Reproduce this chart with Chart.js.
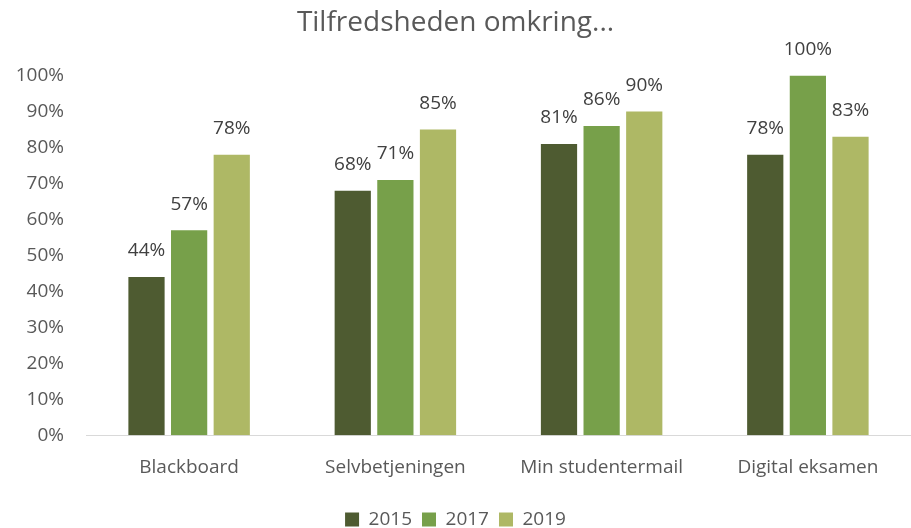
<!DOCTYPE html>
<html>
<head>
<meta charset="utf-8">
<script src="https://cdn.jsdelivr.net/npm/chart.js@4"></script>
<style>
  html, body { margin: 0; padding: 0; background: #fff; }
  #wrap { width: 911px; height: 528px; }
</style>
</head>
<body>
<div id="wrap"><canvas id="chart"></canvas></div>
<script>
// Satisfaction data per year
const categories = ['Blackboard', 'Selvbetjeningen', 'Min studentermail', 'Digital eksamen'];
const years = ['2015', '2017', '2019'];
const values2015 = [44, 68, 81, 78];
const values2017 = [57, 71, 86, 100];
const values2019 = [78, 85, 90, 83];
const yTicks = [0, 10, 20, 30, 40, 50, 60, 70, 80, 90, 100];

const colors = ['#4E5B31', '#77A04A', '#AEB865'];
const FONT = "'Open Sans', 'DejaVu Sans', sans-serif";

// Draws the percentage label above each bar
const barLabels = {
  id: 'barLabels',
  afterDatasetsDraw(chart) {
    const ctx = chart.ctx;
    ctx.save();
    ctx.font = '19px ' + FONT;
    ctx.fillStyle = '#404040';
    ctx.textAlign = 'center';
    ctx.textBaseline = 'middle';
    chart.data.datasets.forEach((ds, i) => {
      chart.getDatasetMeta(i).data.forEach((bar, j) => {
        ctx.fillText(ds.data[j] + '%', bar.x, bar.y - 26);
      });
    });
    ctx.restore();
  }
};

const seriesValues = [values2015, values2017, values2019];

new Chart(document.getElementById('chart'), {
  type: 'bar',
  data: {
    labels: categories,
    datasets: years.map((y, i) => ({
      label: y,
      data: seriesValues[i],
      backgroundColor: colors[i],
      categoryPercentage: 0.62,
      barPercentage: 0.85
    }))
  },
  options: {
    responsive: true,
    maintainAspectRatio: false,
    animation: false,
    layout: { padding: { left: 0, right: 0, top: 0, bottom: -11 } },
    plugins: {
      title: {
        display: true,
        text: 'Tilfredsheden omkring...',
        color: '#595959',
        font: { family: FONT, size: 28, weight: 'normal' },
        padding: { top: 6, bottom: 36 }
      },
      legend: {
        position: 'bottom',
        labels: {
          color: '#595959',
          font: { family: FONT, size: 19 },
          boxWidth: 14,
          boxHeight: 14,
          padding: 10
        }
      },
      tooltip: { enabled: false }
    },
    scales: {
      x: {
        grid: { display: false, drawTicks: false },
        border: { color: '#D9D9D9', width: 1 },
        ticks: { color: '#595959', font: { family: FONT, size: 19 }, padding: 21 },
        afterFit(axis) { axis.height += 0; }
      },
      y: {
        min: 0,
        max: 100,
        afterBuildTicks(axis) { axis.ticks = yTicks.map(v => ({ value: v })); },
        afterFit(axis) { axis.width = 86; },
        grid: { display: false, drawTicks: false },
        border: { display: false },
        ticks: {
          color: '#595959',
          font: { family: FONT, size: 19 },
          padding: 22,
          callback: v => v + '%'
        }
      }
    }
  },
  plugins: [barLabels]
});
</script>
</body>
</html>
